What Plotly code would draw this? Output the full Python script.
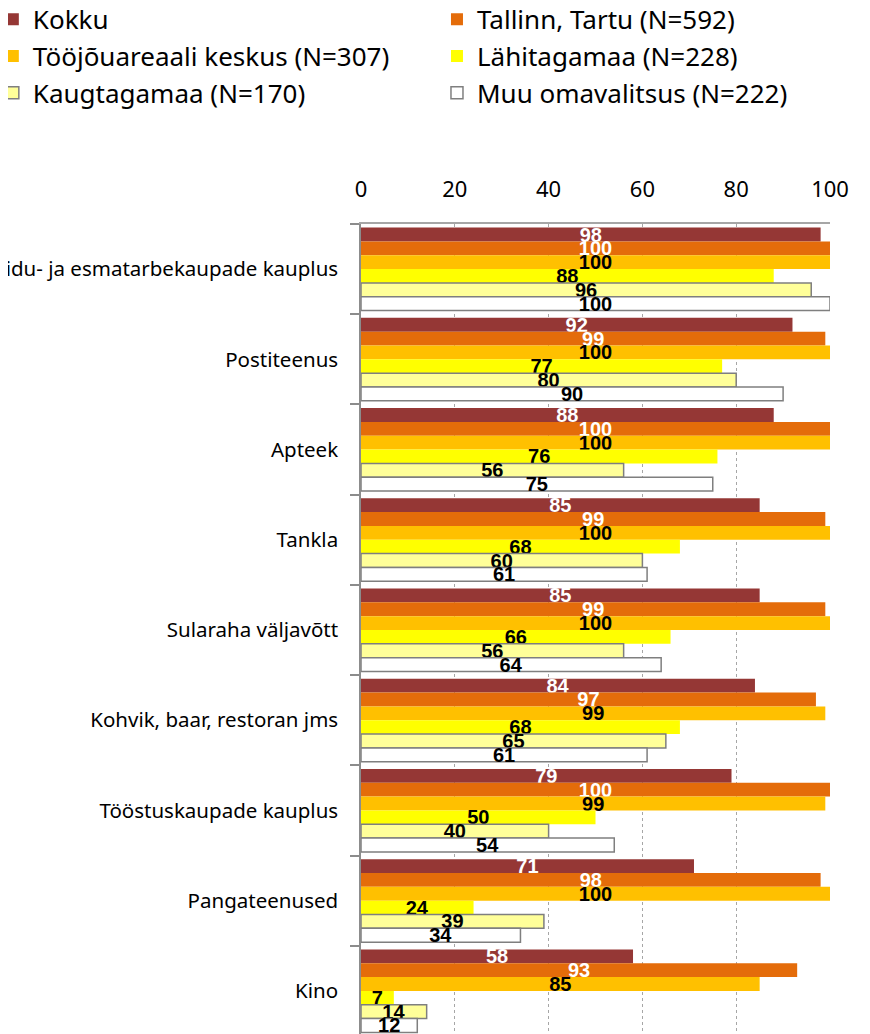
import plotly.graph_objects as go

categories = [
    "Toidu- ja esmatarbekaupade kauplus",
    "Postiteenus",
    "Apteek",
    "Tankla",
    "Sularaha väljavõtt",
    "Kohvik, baar, restoran jms",
    "Tööstuskaupade kauplus",
    "Pangateenused",
    "Kino",
]
series_names = [
    "Kokku",
    "Tallinn, Tartu (N=592)",
    "Tööjõuareaali keskus (N=307)",
    "Lähitagamaa (N=228)",
    "Kaugtagamaa (N=170)",
    "Muu omavalitsus (N=222)",
]
kokku = [98, 92, 88, 85, 85, 84, 79, 71, 58]
tallinn_tartu = [100, 99, 100, 99, 99, 97, 100, 98, 93]
toojou_keskus = [100, 100, 100, 100, 100, 99, 99, 100, 85]
lahitagamaa = [88, 77, 76, 68, 66, 68, 50, 24, 7]
kaugtagamaa = [96, 80, 56, 60, 56, 65, 40, 39, 14]
muu_omavalitsus = [100, 90, 75, 61, 64, 61, 54, 34, 12]
x_ticks = [0, 20, 40, 60, 80, 100]

values = [kokku, tallinn_tartu, toojou_keskus, lahitagamaa, kaugtagamaa, muu_omavalitsus]
colors = ["#953735", "#E46C0A", "#FFC000", "#FFFF00", "#FFFF99", "#FFFFFF"]
line_colors = ["#953735", "#E46C0A", "#FFC000", "#FFFF00", "#7F7F7F", "#7F7F7F"]
line_widths = [0, 0, 0, 0, 1.5, 1.5]
text_colors = ["white", "white", "black", "black", "black", "black"]
legends = ["legend", "legend2", "legend", "legend2", "legend", "legend2"]

fig = go.Figure()
for name, vals, c, lc, lw, tc, lg in zip(series_names, values, colors, line_colors,
                                          line_widths, text_colors, legends):
    fig.add_trace(go.Bar(
        name=name,
        y=categories,
        x=vals,
        orientation="h",
        marker=dict(color=c, line=dict(color=lc, width=lw)),
        text=[str(v) for v in vals],
        textposition="inside",
        insidetextanchor="middle",
        constraintext="none",
        textangle=0,
        textfont=dict(family="Liberation Sans", size=20, color=tc, weight="bold"),
        legend=lg,
        hoverinfo="x+y",
    ))

fig.update_layout(
    width=870,
    height=1034,
    margin=dict(l=353, r=48, t=216, b=6, autoexpand=False),
    paper_bgcolor="white",
    plot_bgcolor="white",
    barmode="group",
    bargap=0.08,
    bargroupgap=0,
    font=dict(family="Noto Sans", color="black"),
    legend=dict(
        xref="paper", yref="paper",
        x=-0.785, y=1.281, xanchor="left", yanchor="top",
        orientation="v",
        font=dict(family="Noto Sans", size=26, color="black"),
        tracegroupgap=0,
        itemclick=False,
    ),
    legend2=dict(
        xref="paper", yref="paper",
        x=0.162, y=1.281, xanchor="left", yanchor="top",
        orientation="v",
        font=dict(family="Noto Sans", size=26, color="black"),
        tracegroupgap=0,
        itemclick=False,
    ),
    xaxis=dict(
        side="top",
        range=[0, 100],
        tickvals=x_ticks,
        ticktext=[str(t) for t in x_ticks],
        tickfont=dict(family="Noto Sans", size=22, color="black"),
        ticks="",
        ticklabelstandoff=16,
        showgrid=True,
        gridcolor="#A6A6A6",
        griddash="dot",
        gridwidth=1,
        showline=True,
        linecolor="#A6A6A6",
        linewidth=1.5,
        zeroline=False,
        fixedrange=True,
        automargin=False,
    ),
    yaxis=dict(
        type="category",
        autorange=False,
        range=[8.5, -0.5],
        showgrid=False,
        showline=True,
        linecolor="#8C8C8C",
        linewidth=1.5,
        ticks="outside",
        tickson="boundaries",
        ticklen=9,
        tickcolor="#8C8C8C",
        tickwidth=1.5,
        tickfont=dict(family="Noto Sans", size=20.5, color="black"),
        ticklabelstandoff=17,
        zeroline=False,
        fixedrange=True,
        automargin=False,
    ),
)

fig.write_html("out.html")
